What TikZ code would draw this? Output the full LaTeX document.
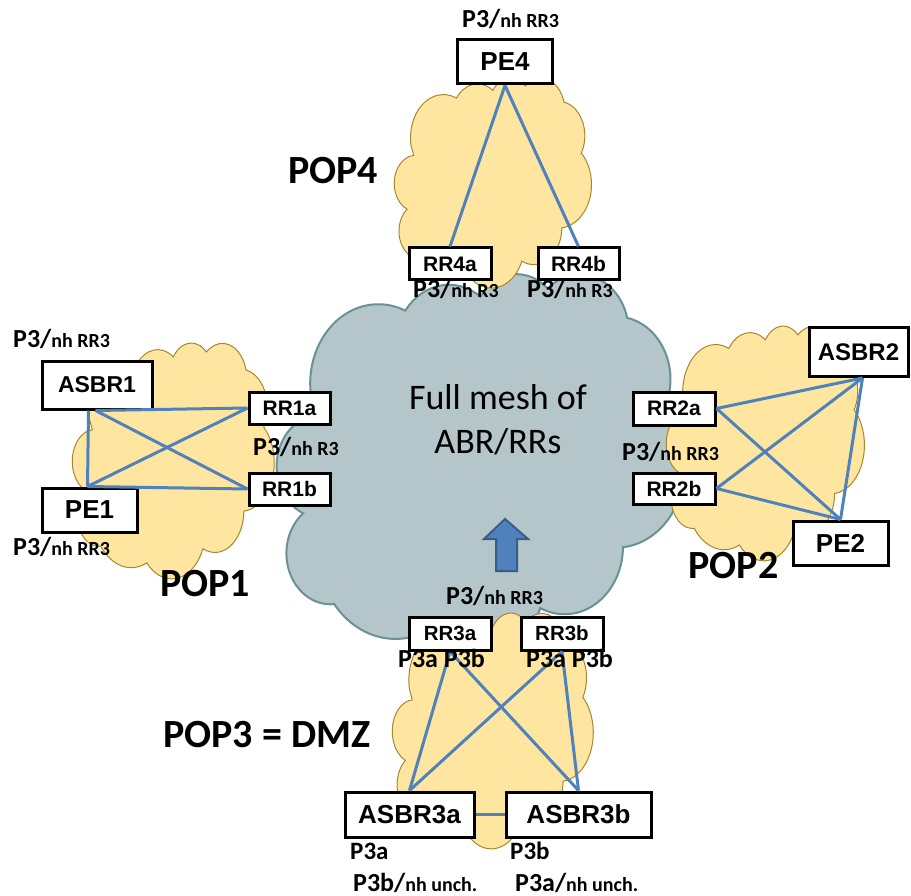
\documentclass[tikz,border=0pt]{standalone}
\usepackage{fontspec}
\setmainfont{Carlito}
\newfontfamily\arialf{Liberation Sans}
\usetikzlibrary{calc}
\definecolor{yfill}{HTML}{FFE6A0}
\definecolor{ydraw}{HTML}{A6862E}
\definecolor{gfill}{HTML}{B4C6C9}
\definecolor{gdraw}{HTML}{6A9296}
\definecolor{lblue}{HTML}{4F81BD}
\definecolor{dblue}{HTML}{385D8A}
\newcommand{\plab}[2]{\bfseries{\fontsize{26}{26}\selectfont #1/}{\fontsize{20}{20}\selectfont #2}}
% PowerPoint-like cloud: style, left, top, width, height
\newcommand{\pptcloud}[5]{%
\path[#1,shift={(#2,#3)},xscale=#4/432,yscale=#5/432]
 (39,143.7)
 arc[start angle=-190.487,delta angle=123.781,x radius=67.53,y radius=91.90]
 arc[start angle=-144.102,delta angle=89.945,x radius=53.33,y radius=72.67]
 arc[start angle=-145.808,delta angle=99.723,x radius=43.65,y radius=59.45]
 arc[start angle=-130.986,delta angle=117.242,x radius=48.57,y radius=65.95]
 arc[start angle=-78.709,delta angle=109.027,x radius=53.33,y radius=72.73]
 arc[start angle=-46.267,delta angle=130.269,x radius=67.75,y radius=92.20]
 arc[start angle=0.625,delta angle=114.033,x radius=57.85,y radius=78.67]
 arc[start angle=22.452,delta angle=115.173,x radius=67.52,y radius=92.15]
 arc[start angle=66.243,delta angle=75.711,x radius=77.20,y radius=105.43]
 arc[start angle=-274.942,delta angle=146.736,x radius=43.60,y radius=59.18]
 arc[start angle=-246.829,delta angle=152.519,x radius=43.45,y radius=59.45]
 -- cycle;}
\tikzset{
  box/.style={draw=black,line width=3pt,fill=white,inner sep=0pt,font=\arialf\bfseries},
  ycl/.style={fill=yfill,draw=ydraw,line width=1pt},
  gcl/.style={fill=gfill,draw=gdraw,line width=2pt},
  link/.style={draw=lblue,line width=3pt},
  lab/.style={inner sep=0pt,anchor=base west},
  pop/.style={inner sep=0pt,font=\bfseries\fontsize{40}{40}\selectfont}
}
\begin{document}
\begin{tikzpicture}[x=1pt,y=-1pt]
\useasboundingbox (0,0) rectangle (911,896);
% clouds
\pptcloud{gcl}{272}{274}{436}{372}
\pptcloud{ycl}{392}{78}{211}{204}
\pptcloud{ycl}{70}{343}{216}{229}
\pptcloud{ycl}{664}{326}{212}{228}
\pptcloud{ycl}{390}{613}{215}{229}
% core text
\node[inner sep=0pt,font=\fontsize{36}{44}\selectfont,align=center] (fm) at (498,420) {Full mesh of\\ABR/RRs};
% arrow
\fill[lblue,draw=dblue,line width=2pt] (505,519) -- (528,539) -- (517,539) -- (517,571) -- (496,571) -- (496,539) -- (484,539) -- cycle;
% POP4
\node[box,minimum width=95,minimum height=44,font=\arialf\bfseries\fontsize{26}{26}\selectfont] (pe4) at (505,62) {PE4};
\node[box,minimum width=82,minimum height=32,font=\arialf\bfseries\fontsize{21}{21}\selectfont] (rr4a) at (450,264) {RR4a};
\node[box,minimum width=81,minimum height=32,font=\arialf\bfseries\fontsize{21}{21}\selectfont] (rr4b) at (578.5,264) {RR4b};
\draw[link] (pe4.south) -- (rr4a.north);
\draw[link] (pe4.south) -- (rr4b.north);
\node[lab] (l4) at (462,28) {\plab{P3}{nh RR3}};
\node[lab] (l4a) at (413,298) {\plab{P3}{nh R3}};
\node[lab] (l4b) at (527,298) {\plab{P3}{nh R3}};
\node[pop] (pop4) at (333,170.5) {POP4};
% POP1
\node[box,minimum width=110,minimum height=48,font=\arialf\bfseries\fontsize{23}{23}\selectfont] (asbr1) at (97,385) {ASBR1};
\node[box,minimum width=95,minimum height=44,font=\arialf\bfseries\fontsize{26}{26}\selectfont] (pe1) at (89.5,510) {PE1};
\node[box,minimum width=81,minimum height=32,font=\arialf\bfseries\fontsize{21}{21}\selectfont] (rr1a) at (289.5,408) {RR1a};
\node[box,minimum width=81,minimum height=32,font=\arialf\bfseries\fontsize{21}{21}\selectfont] (rr1b) at (289.5,489) {RR1b};
\draw[link] ([xshift=48pt]asbr1.south west) -- ([xshift=47pt]pe1.north west);
\draw[link] ([xshift=55pt]asbr1.south west) -- (rr1a.west);
\draw[link] ([xshift=55pt]asbr1.south west) -- (rr1b.west);
\draw[link] ([xshift=47pt]pe1.north west) -- (rr1a.west);
\draw[link] ([xshift=47pt]pe1.north west) -- (rr1b.west);
\node[lab] (l1a) at (13,347) {\plab{P3}{nh RR3}};
\node[lab] (l1b) at (13,555) {\plab{P3}{nh RR3}};
\node[lab] (l1c) at (253,455) {\plab{P3}{nh R3}};
\node[pop] (pop1) at (205,583.5) {POP1};
% POP2
\node[box,minimum width=99,minimum height=49,font=\arialf\bfseries\fontsize{24}{24}\selectfont] (asbr2) at (858.5,352) {ASBR2};
\node[box,minimum width=82,minimum height=33,font=\arialf\bfseries\fontsize{21}{21}\selectfont] (rr2a) at (674,408.5) {RR2a};
\node[box,minimum width=82,minimum height=31,font=\arialf\bfseries\fontsize{21}{21}\selectfont] (rr2b) at (674,488.5) {RR2b};
\node[box,minimum width=95,minimum height=44,font=\arialf\bfseries\fontsize{26}{26}\selectfont] (pe2) at (840.5,543) {PE2};
\draw[link] ([xshift=4pt]asbr2.south) -- (rr2a.east);
\draw[link] ([xshift=4pt]asbr2.south) -- (rr2b.east);
\draw[link] ([xshift=4pt]asbr2.south) -- (pe2.north);
\draw[link] (rr2a.east) -- (pe2.north);
\draw[link] (rr2b.east) -- (pe2.north);
\node[lab] (l2) at (622,460) {\plab{P3}{nh RR3}};
\node[pop] (pop2) at (733.5,565.5) {POP2};
% POP3
\node[box,minimum width=82,minimum height=33,font=\arialf\bfseries\fontsize{20.5}{20.5}\selectfont] (rr3a) at (450,633.5) {RR3a};
\node[box,minimum width=82,minimum height=33,font=\arialf\bfseries\fontsize{20.5}{20.5}\selectfont] (rr3b) at (562,633.5) {RR3b};
\node[box,minimum width=129,minimum height=45,font=\arialf\bfseries\fontsize{26}{26}\selectfont] (asbr3a) at (409.5,814.5) {ASBR3a};
\node[box,minimum width=145,minimum height=45,font=\arialf\bfseries\fontsize{26}{26}\selectfont] (asbr3b) at (578.5,814.5) {ASBR3b};
\draw[link] (asbr3a.north) -- (rr3a.south);
\draw[link] (asbr3a.north) -- (rr3b.south);
\draw[link] (asbr3b.north) -- (rr3a.south);
\draw[link] (asbr3b.north) -- (rr3b.south);
\draw[link] (asbr3a.east) -- (asbr3b.west);
\node[lab] (l3) at (446,604) {\plab{P3}{nh RR3}};
\node[lab,font=\bfseries\fontsize{26}{26}\selectfont] (l3a) at (398,667) {P3a P3b};
\node[lab,font=\bfseries\fontsize{26}{26}\selectfont] (l3b) at (526,667) {P3a P3b};
\node[lab,font=\bfseries\fontsize{25}{25}\selectfont] (l3c) at (350,859) {P3a};
\node[lab,font=\bfseries\fontsize{25}{25}\selectfont] (l3d) at (510,859) {P3b};
\node[lab] (l3e) at (353,891) {\plab{P3b}{nh unch.}};
\node[lab] (l3f) at (515,891) {\plab{P3a}{nh unch.}};
\node[pop] (pop3) at (267,734.5) {POP3 = DMZ};
\end{tikzpicture}
\end{document}
